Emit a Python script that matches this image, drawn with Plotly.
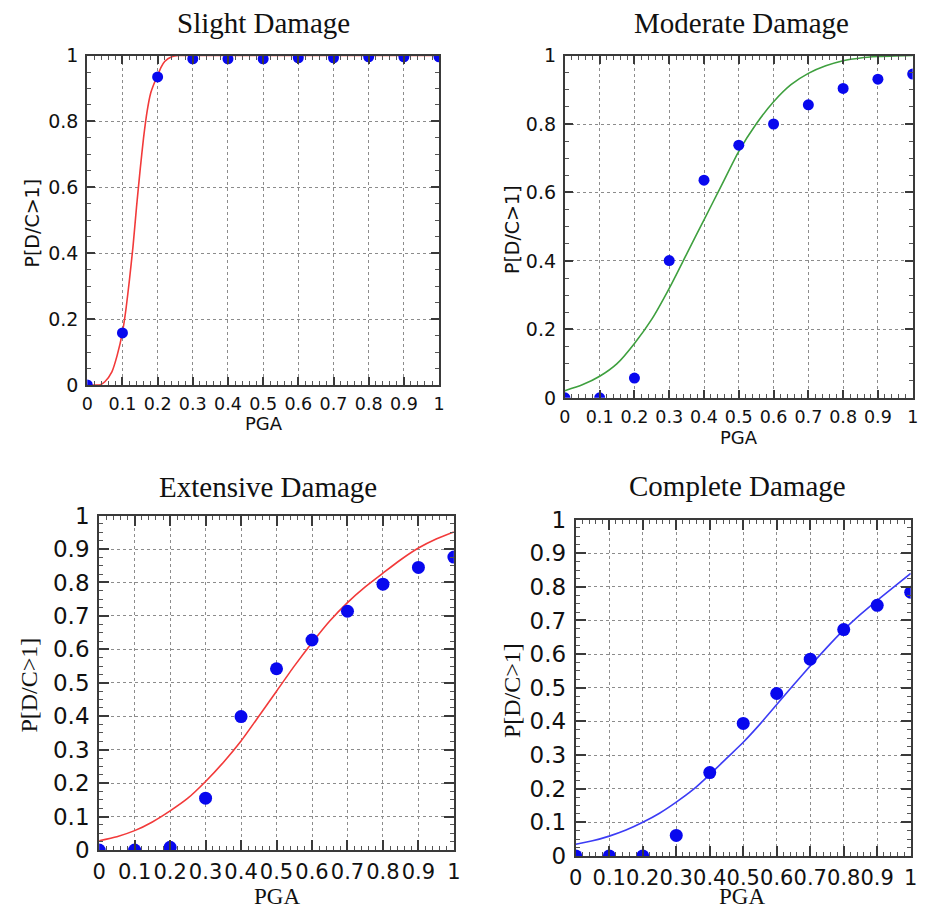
import plotly.graph_objects as go

# Observed exceedance probabilities at each PGA level
pga = [0.0, 0.1, 0.2, 0.3, 0.4, 0.5, 0.6, 0.7, 0.8, 0.9, 1.0]
slight_obs = [0.0, 0.158, 0.935, 0.99, 0.99, 0.99, 0.993, 0.993, 0.996, 0.996, 0.996]
moderate_obs = [0.0, 0.0, 0.058, 0.401, 0.636, 0.738, 0.80, 0.856, 0.904, 0.931, 0.946]
extensive_obs = [0.0, 0.0, 0.008, 0.155, 0.399, 0.542, 0.628, 0.714, 0.795, 0.845, 0.876]
complete_obs = [0.0, 0.0, 0.0, 0.061, 0.248, 0.394, 0.483, 0.585, 0.673, 0.745, 0.784]

# Fitted fragility curves (sampled points)
slight_fit_x = [0.0, 0.02, 0.035, 0.05, 0.07, 0.085, 0.1, 0.11, 0.12, 0.13, 0.14, 0.15,
                0.16, 0.17, 0.18, 0.19, 0.2, 0.21, 0.22, 0.24, 0.26, 0.3, 0.4, 0.5,
                0.6, 0.7, 0.8, 0.9, 1.0]
slight_fit_y = [0.0, 0.0, 0.0, 0.01, 0.04, 0.09, 0.16, 0.23, 0.32, 0.42, 0.54, 0.65,
                0.75, 0.83, 0.885, 0.915, 0.94, 0.965, 0.982, 0.996, 1.0, 1.0, 1.0, 1.0,
                1.0, 1.0, 1.0, 1.0, 1.0]

fit_x = [0.0, 0.05, 0.1, 0.15, 0.2, 0.25, 0.3, 0.35, 0.4, 0.45, 0.5, 0.55, 0.6, 0.65,
         0.7, 0.75, 0.8, 0.85, 0.9, 0.95, 1.0]
moderate_fit = [0.021, 0.038, 0.063, 0.10, 0.159, 0.23, 0.32, 0.42, 0.52, 0.62, 0.72,
                0.80, 0.865, 0.915, 0.948, 0.97, 0.985, 0.993, 0.997, 0.999, 1.0]
extensive_fit = [0.028, 0.04, 0.058, 0.084, 0.117, 0.155, 0.205, 0.262, 0.326, 0.40,
                 0.475, 0.55, 0.62, 0.685, 0.74, 0.787, 0.828, 0.868, 0.903, 0.93, 0.951]
complete_fit = [0.035, 0.045, 0.059, 0.077, 0.10, 0.127, 0.16, 0.197, 0.242, 0.29, 0.338,
                0.392, 0.45, 0.508, 0.565, 0.62, 0.672, 0.718, 0.76, 0.80, 0.84]

# Tick labels
x_tickvals = [0.0, 0.1, 0.2, 0.3, 0.4, 0.5, 0.6, 0.7, 0.8, 0.9, 1.0]
x_ticktext = ["0", "0.1", "0.2", "0.3", "0.4", "0.5", "0.6", "0.7", "0.8", "0.9", "1"]
y_top_tickvals = [0.0, 0.2, 0.4, 0.6, 0.8, 1.0]
y_top_ticktext = ["0", "0.2", "0.4", "0.6", "0.8", "1"]
y_bot_tickvals = [0.0, 0.1, 0.2, 0.3, 0.4, 0.5, 0.6, 0.7, 0.8, 0.9, 1.0]
y_bot_ticktext = ["0", "0.1", "0.2", "0.3", "0.4", "0.5", "0.6", "0.7", "0.8", "0.9", "1"]

titles = ["Slight Damage", "Moderate Damage", "Extensive Damage", "Complete Damage"]

W, H = 931, 915
SANS = "DejaVu Sans"
SERIF = "Liberation Serif"
DOT = "#0808ee"
RED = "#f23a3a"
GREEN = "#3fa03f"
BLUE = "#3c3cf5"
FRAME = "#3a3a3a"


# Pixel-to-paper helpers (small offset/scale correction for the page frame)
def px_x(p):
    return ((p - 3) / 0.994) / W


def px_y(p):
    return 1 - ((p - 8) / 0.982) / H


fig = go.Figure()

panels = [
    # (suffix, obs, fit_x, fit_y, line colour, marker size)
    ("", slight_obs, slight_fit_x, slight_fit_y, RED, 11),
    ("2", moderate_obs, fit_x, moderate_fit, GREEN, 11),
    ("3", extensive_obs, fit_x, extensive_fit, RED, 13),
    ("4", complete_obs, fit_x, complete_fit, BLUE, 13),
]

for suffix, obs, fx, fy, col, msize in panels:
    fig.add_trace(go.Scatter(
        x=fx, y=fy, mode="lines", line=dict(color=col, width=1.6, shape="spline", smoothing=0.6),
        xaxis="x" + suffix, yaxis="y" + suffix, showlegend=False, hoverinfo="skip"))
    fig.add_trace(go.Scatter(
        x=pga, y=obs, mode="markers", marker=dict(color=DOT, size=msize, line=dict(width=0)),
        xaxis="x" + suffix, yaxis="y" + suffix, showlegend=False))


def axis_style(tickvals, ticktext, font, minor_dtick, ticklen, standoff):
    return dict(
        range=[0, 1], tickvals=tickvals, ticktext=ticktext, tickangle=0,
        showline=True, linecolor=FRAME, linewidth=2, mirror="allticks",
        ticks="inside", ticklen=ticklen, tickwidth=1.5, tickcolor=FRAME,
        ticklabelstandoff=standoff,
        showgrid=True, gridcolor="#8c8c8c", griddash="dot", gridwidth=1,
        zeroline=False, tickfont=dict(family=SANS, size=font, color="#111"),
        minor=dict(ticks="inside", dtick=minor_dtick, tick0=0, ticklen=4,
                   tickwidth=1, tickcolor="#555", showgrid=False),
        fixedrange=True,
    )


# Plot-area rectangles in pixels: (left, right, top, bottom)
boxes = [(84, 439, 51, 384), (566, 917, 51, 397), (96, 454, 516, 854), (577, 915, 520, 860)]

layout_axes = {}
for i, (l, r, t, b) in enumerate(boxes):
    suffix = "" if i == 0 else str(i + 1)
    top = i < 2
    xa = axis_style(x_tickvals, x_ticktext, 17.5 if top else 21, 0.02,
                    8 if top else 10, 2 if top else 2)
    ya = axis_style(y_top_tickvals if top else y_bot_tickvals,
                    y_top_ticktext if top else y_bot_ticktext,
                    19 if top else 23, 0.05 if top else 0.025, 8 if top else 10, 3)
    xa.update(domain=[px_x(l), px_x(r)], anchor="y" + suffix)
    ya.update(domain=[px_y(b), px_y(t)], anchor="x" + suffix)
    layout_axes["xaxis" + suffix] = xa
    layout_axes["yaxis" + suffix] = ya

annotations = []
# Panel titles
for text, (cx, cy) in zip(titles, [(262, 18), (744, 18), (266, 487), (740, 486)]):
    annotations.append(dict(text=text, x=px_x(cx), y=px_y(cy), xref="paper", yref="paper",
                            showarrow=False, xanchor="center", yanchor="middle",
                            font=dict(family=SERIF, size=29, color="#111")))
# Axis titles
for (cx, cy), fam, size in [((28, 220), SANS, 19), ((512, 227), SANS, 19),
                            ((25, 687), SERIF, 24), ((512, 693), SERIF, 24)]:
    annotations.append(dict(text="P[D/C>1]", x=px_x(cx), y=px_y(cy), xref="paper", yref="paper",
                            showarrow=False, textangle=-90, xanchor="center", yanchor="middle",
                            font=dict(family=fam, size=size, color="#111")))
for (cx, cy), fam, size in [((262, 423), SANS, 18), ((742, 437), SANS, 18),
                            ((275, 901), SERIF, 23), ((745, 901), SERIF, 23)]:
    annotations.append(dict(text="PGA", x=px_x(cx), y=px_y(cy), xref="paper", yref="paper",
                            showarrow=False, xanchor="center", yanchor="middle",
                            font=dict(family=fam, size=size, color="#111")))

fig.update_layout(
    width=W, height=H, margin=dict(l=0, r=0, t=0, b=0),
    paper_bgcolor="white", plot_bgcolor="white",
    annotations=annotations, **layout_axes,
)

fig.write_html("out.html", config={"displayModeBar": False})
